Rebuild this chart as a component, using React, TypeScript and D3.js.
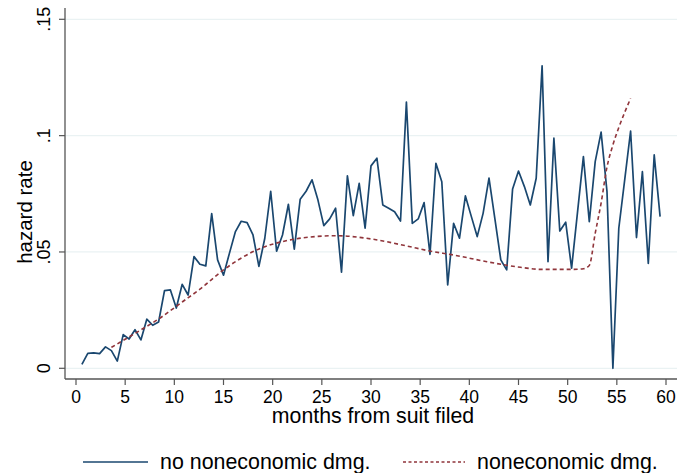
import * as d3 from 'd3';

// hazard rate, no noneconomic damages, one value every 0.6 months starting at 0.6
const noNoneconHazard = [
  0.0017, 0.0064, 0.0066, 0.0063, 0.0092, 0.0076, 0.0031, 0.0145, 0.0126, 0.0166,
  0.0122, 0.0211, 0.0185, 0.0199, 0.0334, 0.0337, 0.0259, 0.0361, 0.0315, 0.048,
  0.0447, 0.044, 0.0665, 0.0466, 0.040, 0.0494, 0.0586, 0.0632, 0.0626, 0.0573,
  0.0438, 0.0559, 0.0761, 0.0503, 0.0573, 0.0705, 0.0512, 0.0727, 0.0761, 0.081,
  0.0724, 0.0613, 0.0642, 0.0688, 0.0413, 0.0827, 0.0656, 0.0795, 0.0602, 0.087,
  0.0903, 0.0702, 0.0688, 0.0673, 0.0633, 0.1144, 0.0623, 0.0642, 0.0712, 0.049,
  0.0881, 0.0802, 0.0358, 0.0623, 0.0559, 0.0741, 0.0653, 0.0566, 0.0666, 0.0817,
  0.0642, 0.0466, 0.0423, 0.0771, 0.0848, 0.0781, 0.0702, 0.0817, 0.130, 0.0458,
  0.0989, 0.059, 0.0628, 0.043, 0.067, 0.091, 0.063, 0.0888, 0.1015, 0.0759,
  0.000, 0.0602, 0.081, 0.102, 0.0562, 0.0845, 0.0451, 0.0917, 0.0652,
];
const firstMonth = 0.6;
const monthStep = 0.6;

// smoothed hazard, noneconomic damages (read at these months)
const noneconMonths = [
  3.6, 6, 8.4, 10.8, 12.6, 15, 18.4, 21.8, 24.3, 26.4, 30, 33.6, 36, 38.4, 41.8,
  45.2, 47.4, 50.4, 51.6, 52.2, 52.8, 53.4, 54, 54.6, 55.2, 55.8, 56.4,
];
const noneconHazard = [
  0.009, 0.015, 0.0212, 0.0285, 0.034, 0.0423, 0.0509, 0.0552, 0.0566, 0.057,
  0.0556, 0.0526, 0.0504, 0.0487, 0.0458, 0.0434, 0.0425, 0.0425, 0.0428, 0.0442,
  0.058, 0.071, 0.0865, 0.096, 0.1035, 0.11, 0.116,
];

const xTicks = [0, 5, 10, 15, 20, 25, 30, 35, 40, 45, 50, 55, 60];
const yTicks = [0, 0.05, 0.1, 0.15];
const yTickLabels = ['0', '.05', '.1', '.15'];
const legendLabels = ['no noneconomic dmg.', 'noneconomic dmg.'];

const BLUE = '#1a476f';
const RED = '#90353b';
const GRID = '#eaf2f3';
const FONT = '"Liberation Sans", Arial, Helvetica, sans-serif';

export default function App() {
  const width = 687;
  const height = 473;
  const plotLeft = 65;
  const plotRight = 677;
  const plotTop = 8;
  const plotBottom = 379;

  const x = d3.scaleLinear().domain([0, 60]).range([76, 666]);
  const y = d3.scaleLinear().domain([0, 0.15]).range([368.3, 19.3]);

  const blueData = noNoneconHazard.map((v, i) => [firstMonth + i * monthStep, v]);
  const redData = noneconMonths.map((m, i) => [m, noneconHazard[i]]);

  const blueLine = d3.line<number[]>().x(d => x(d[0])).y(d => y(d[1]));
  const redLine = d3.line<number[]>()
    .x(d => x(d[0]))
    .y(d => y(d[1]))
    .curve(d3.curveMonotoneX);

  return (
    <svg
      width={width}
      height={height}
      style={{ position: 'absolute', left: 0, top: 0, display: 'block', background: '#fff' }}
      fontFamily={FONT}
    >
      {/* gridlines */}
      {yTicks.map(t => (
        <line key={'g' + t} x1={plotLeft} x2={plotRight} y1={y(t)} y2={y(t)} stroke={GRID} strokeWidth={1.2} />
      ))}

      {/* series */}
      <path d={blueLine(blueData) || ''} fill="none" stroke={BLUE} strokeWidth={1.7} strokeLinejoin="round" />
      <path d={redLine(redData) || ''} fill="none" stroke={RED} strokeWidth={1.6} strokeDasharray="4 3" />

      {/* y axis */}
      <line x1={plotLeft} x2={plotLeft} y1={plotTop} y2={plotBottom} stroke="#555" strokeWidth={1.3} />
      {yTicks.map((t, i) => (
        <g key={'y' + t}>
          <line x1={plotLeft - 6} x2={plotLeft} y1={y(t)} y2={y(t)} stroke="#555" strokeWidth={1.2} />
          <text transform={`translate(50,${y(t)}) rotate(-90)`} textAnchor="middle" fontSize={18} fill="#000">
            {yTickLabels[i]}
          </text>
        </g>
      ))}
      <text transform="translate(32,212) rotate(-90)" textAnchor="middle" fontSize={20.5} fill="#000">
        hazard rate
      </text>

      {/* x axis */}
      <line x1={plotLeft} x2={plotRight} y1={plotBottom} y2={plotBottom} stroke="#555" strokeWidth={1.3} />
      {xTicks.map(t => (
        <g key={'x' + t}>
          <line x1={x(t)} x2={x(t)} y1={plotBottom} y2={plotBottom + 6} stroke="#555" strokeWidth={1.2} />
          <text x={x(t)} y={402.5} textAnchor="middle" fontSize={17.5} fill="#000">
            {t}
          </text>
        </g>
      ))}
      <text x={(plotLeft + plotRight) / 2 + 2} y={423} textAnchor="middle" fontSize={21.3} fill="#000">
        months from suit filed
      </text>

      {/* legend */}
      <line x1={83} x2={148} y1={462} y2={462} stroke={BLUE} strokeWidth={1.5} />
      <text x={160} y={468.5} fontSize={21.4} fill="#000">{legendLabels[0]}</text>
      <line x1={403} x2={465} y1={462} y2={462} stroke={RED} strokeWidth={1.4} strokeDasharray="3 2.5" />
      <text x={477} y={468.5} fontSize={21.4} fill="#000">{legendLabels[1]}</text>
    </svg>
  );
}
